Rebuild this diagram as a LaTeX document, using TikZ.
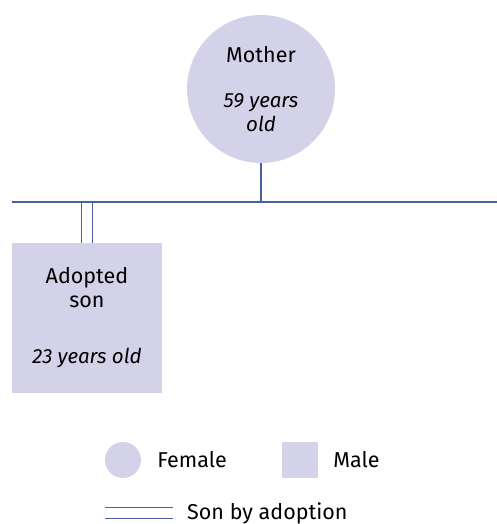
\documentclass[tikz,border=0pt]{standalone}
\usepackage{fontspec}
\setmainfont{Fira Sans}
\usetikzlibrary{positioning}
\definecolor{kinfill}{RGB}{212,210,232}
\definecolor{kinline}{RGB}{72,96,164}
\newcommand\agetext[1]{{\fontsize{20.5}{24}\selectfont\itshape #1}}
\tikzset{
  female/.style={circle, fill=kinfill, minimum size=#1, inner sep=0pt, align=center},
  male/.style={rectangle, fill=kinfill, minimum size=#1, inner sep=0pt, align=center},
  kin/.style={draw=kinline, line width=1.1pt},
  adopt/.style={draw=kinline, line width=1.1pt, double=white, double distance=9.5pt},
  legtext/.style={inner sep=0pt, anchor=west}
}
\begin{document}
\begin{tikzpicture}[x=1pt, y=-1pt, font=\fontsize{21.5}{24}\selectfont]
		\useasboundingbox (0,0) rectangle (497,524);
		% Family
		\node[female=148pt] (Mother) at (261,89) {Mother\\[21pt]\agetext{59 years}\\\agetext{old}} ;
		\node[male=150pt] (Son) at (87,318) {Adopted\\son\\[32pt]\agetext{23 years old}} ;
		% Marriage line
		\coordinate (LineL) at (12,202) ;
		\coordinate (LineR) at (497,202) ;
		\coordinate (MotherJ) at (261,202) ;
		\coordinate (SonJ) at (87,202) ;
		\draw[adopt] (Son.north) -- (SonJ) ;
		\draw[kin] (LineL) -- (LineR) ;
		\draw[kin] (Mother) -- (MotherJ) ;
		% Legend
		\node[female=36pt] (LegF) at (123,460) {} ;
		\node[legtext, right=16pt of LegF] (LegFText) {Female} ;
		\node[male=36pt] (LegM) at (300,460) {} ;
		\node[legtext, right=15pt of LegM] (LegMText) {Male} ;
		\coordinate (LegAL) at (105,513) ;
		\coordinate (LegAR) at (173,513) ;
		\draw[adopt] (LegAL) -- (LegAR) ;
		\node[legtext, right=14pt of LegAR] (LegAText) {Son by adoption} ;
\end{tikzpicture}
\end{document}
